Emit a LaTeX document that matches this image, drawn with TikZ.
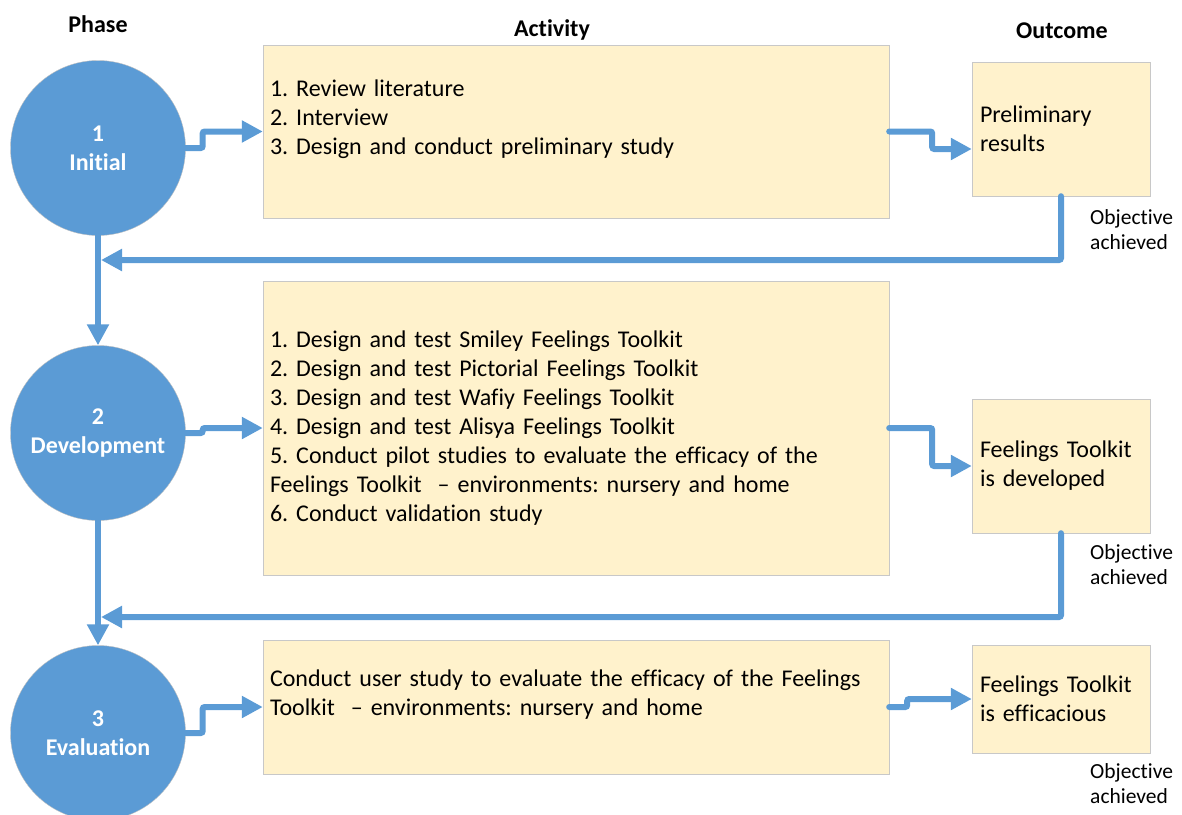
\documentclass[tikz,border=0pt]{standalone}
\usepackage{fontspec}
\setmainfont{Carlito}[Ligatures=NoCommon]
\usetikzlibrary{arrows.meta, positioning, calc}
\definecolor{phaseBlue}{HTML}{5B9BD5}
\definecolor{boxYellow}{HTML}{FFF2CC}
\definecolor{boxEdge}{HTML}{C8C8C8}
\frenchspacing
\tikzset{
    phaseNode/.style={circle, draw=black!25, thin, fill=phaseBlue, text=white, inner sep=0pt, minimum size=175pt, align=center, font=\fontsize{24}{29}\selectfont\bfseries},
    actBox/.style={rectangle, draw=boxEdge, fill=boxYellow, inner xsep=7pt, inner ysep=0pt, text width=612pt, align=left, font=\fontsize{24}{29}\selectfont},
    outBox/.style={rectangle, draw=boxEdge, fill=boxYellow, inner xsep=8pt, inner ysep=0pt, text width=162pt, minimum height=134pt, align=left, font=\fontsize{24}{29}\selectfont},
    headLabel/.style={font=\fontsize{24}{29}\selectfont\bfseries},
    noteLabel/.style={anchor=west, inner sep=0pt, align=left, font=\fontsize{21.5}{25}\selectfont},
    flowLine/.style={line width=6pt, draw=phaseBlue, line cap=round, rounded corners=2pt, -{Triangle[length=21pt, width=21pt]}}
}

\begin{document}
\begin{tikzpicture}[x=1pt, y=-1pt]

    % --- Frame ---
    \useasboundingbox (0,0) rectangle (1182,814);

    % --- Headers ---
    \node[headLabel] (hPhase) at (98,24) {Phase};
    \node[headLabel] (hAct) at (552,30) {Activity};
    \node[headLabel] (hOut) at (1062,31) {Outcome};

    % --- Phases ---
    \node[phaseNode] (c1) at (98,148) {1\\Initial};
    \node[phaseNode] (c2) at (98,433) {2\\Development};
    \node[phaseNode] (c3) at (98,733) {3\\Evaluation};

    % --- Activities ---
    \node[actBox, minimum height=173pt] (a1) at (576,131.5)
        {1. Review literature\\2. Interview\\3. Design and conduct preliminary study\\\mbox{}};
    \node[actBox, minimum height=294pt] (a2) at (576,428)
        {1. Design and test Smiley Feelings Toolkit\\
         2. Design and test Pictorial Feelings Toolkit\\
         3. Design and test Wafiy Feelings Toolkit\\
         4. Design and test Alisya Feelings Toolkit\\
         5. Conduct pilot studies to evaluate the efficacy of the\\
         Feelings Toolkit\ \ -- environments: nursery and home\\
         6. Conduct validation study};
    \node[actBox, minimum height=134pt] (a3) at (576,707)
        {Conduct user study to evaluate the efficacy of the Feelings\\
         Toolkit\ \ -- environments: nursery and home\\\mbox{}};

    % --- Outcomes ---
    \node[outBox] (o1) at (1061,129) {Preliminary\\results};
    \node[outBox] (o2) at (1061,466) {Feelings Toolkit\\is developed};
    \node[outBox, minimum height=108pt] (o3) at (1061,699) {Feelings Toolkit\\is efficacious};

    \node[noteLabel] (n1) at (1090,230) {Objective\\achieved};
    \node[noteLabel] (n2) at (1090,565) {Objective\\achieved};
    \node[noteLabel] (n3) at (1090,784) {Objective\\achieved};

    % --- Loop ends on the phase line ---
    \coordinate (j1) at (101,260);
    \coordinate (j2) at (101,617);

    % 1. Phase to activity
    \draw[flowLine] (c1.east) -- ++(17,0) |- (a1.west);
    \draw[flowLine] (c2.east) -- ++(17,0) |- (a2.west);
    \draw[flowLine] (c3.east) -- ++(17,0) |- (a3.west);

    % 2. Activity to outcome
    \draw[flowLine] (a1.east) -- ++(43,0) |- ($(o1.west)+(0,20)$);
    \draw[flowLine] (a2.east) -- ++(43,0) |- (o2.west);
    \draw[flowLine] (a3.east) -- ++(18,0) |- (o3.west);

    % 3. Phase to phase
    \draw[flowLine] (c1.south) -- (c2.north);
    \draw[flowLine] (c2.south) -- (c3.north);

    % 4. Objective achieved loops
    \draw[flowLine] (o1.south) |- (j1);
    \draw[flowLine] (o2.south) |- (j2);

\end{tikzpicture}
\end{document}
